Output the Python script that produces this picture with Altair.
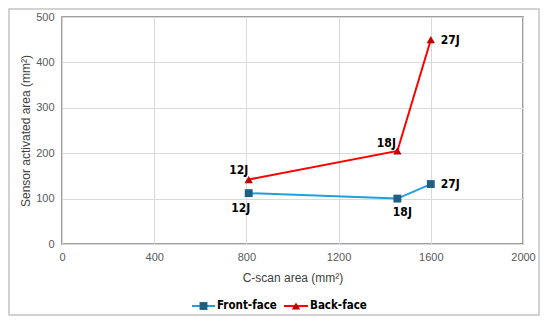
import altair as alt
import pandas as pd

# ---- data ----
labels = ["12J", "18J", "27J"]
front_x = [810, 1455, 1600]
front_y = [112, 100, 132]
back_x = [810, 1455, 1600]
back_y = [142, 205, 450]

series_names = ["Front-face", "Back-face"]
x_ticks = [0, 400, 800, 1200, 1600, 2000]
y_ticks = [0, 100, 200, 300, 400, 500]

df = pd.DataFrame({
    "series": ["Front-face"] * 3 + ["Back-face"] * 3,
    "x": front_x + back_x,
    "y": front_y + back_y,
    "label": labels + labels,
})

line_colors = ["#1ea0d8", "#ff0000"]
marker_colors = ["#1f5f80", "#c00000"]
marker_shapes = ["square", "triangle-up"]
LBL_FONT = "Liberation Sans Narrow, DejaVu Sans Condensed, sans-serif"
AX_FONT = "Liberation Sans, Arial, sans-serif"

xs = alt.X("x:Q", scale=alt.Scale(domain=[0, 2000], nice=False),
           axis=alt.Axis(values=x_ticks, title="C-scan area (mm²)", grid=True,
                         ticks=False, domain=False, labelPadding=7, labelFlush=False,
                         titlePadding=10, format="d"))
ys = alt.Y("y:Q", scale=alt.Scale(domain=[0, 500], nice=False),
           axis=alt.Axis(values=y_ticks, title="Sensor activated area (mm²)",
                         grid=True, ticks=False, domain=False, labelPadding=8,
                         labelFlush=False, titlePadding=3, format="d"))

base = alt.Chart(df)

lines = base.mark_line(strokeWidth=2).encode(
    x=xs, y=ys,
    color=alt.Color("series:N", scale=alt.Scale(domain=series_names, range=line_colors),
                    legend=None),
)

pt_front = base.transform_filter(alt.datum.series == series_names[0]).mark_point(
    filled=True, opacity=1, size=62, shape=marker_shapes[0], color=marker_colors[0]
).encode(x="x:Q", y="y:Q")
pt_back = base.transform_filter(alt.datum.series == series_names[1]).mark_point(
    filled=True, opacity=1, size=70, shape=marker_shapes[1], color=marker_colors[1]
).encode(x="x:Q", y="y:Q")

# label offsets (pixels) per series/label
offsets = {
    ("Front-face", "12J"): (-8, 15, "center"),
    ("Front-face", "18J"): (5, 13, "center"),
    ("Front-face", "27J"): (10, 0, "left"),
    ("Back-face", "12J"): (-10, -10, "center"),
    ("Back-face", "18J"): (-11, -8, "center"),
    ("Back-face", "27J"): (10, 0, "left"),
}
texts = []
for (s, l), (dx, dy, al) in offsets.items():
    texts.append(
        base.transform_filter(
            (alt.datum.series == s) & (alt.datum.label == l)
        ).mark_text(dx=dx, dy=dy, align=al, baseline="middle", font=LBL_FONT,
                    fontWeight="bold", fontSize=12, color="#000000").encode(
            x="x:Q", y="y:Q", text="label:N")
    )

# legend (drawn below the plot, centred on the chart)
one = alt.Chart(pd.DataFrame({"a": [0]}))
LEG_Y = 289
leg_pos = [(130, 153), (222, 246)]
legend_layers = []
for i, name in enumerate(series_names):
    x0, x1 = leg_pos[i]
    legend_layers.append(one.mark_rule(color=line_colors[i], strokeWidth=2).encode(
        x=alt.value(x0), x2=alt.value(x1), y=alt.value(LEG_Y)))
    legend_layers.append(one.mark_point(
        filled=True, opacity=1, shape=marker_shapes[i], color=marker_colors[i],
        size=62 if i == 0 else 70).encode(
        x=alt.value((x0 + x1) / 2), y=alt.value(LEG_Y)))
    legend_layers.append(one.mark_text(
        align="left", baseline="middle", font=LBL_FONT, fontWeight="bold",
        fontSize=11.5, color="#000000").encode(
        x=alt.value(x1 + 2), y=alt.value(LEG_Y), text=alt.value(name)))

border = one.mark_rect(
    fill="transparent", stroke="#c4c4c4", strokeWidth=1.5).encode(
    x=alt.value(-53), x2=alt.value(477), y=alt.value(-8), y2=alt.value(298))

chart = alt.layer(border, lines, pt_front, pt_back, *texts, *legend_layers).properties(
    width=461, height=227,
    autosize=alt.AutoSizeParams(type="none"),
    padding={"left": 54, "top": 9, "right": 18, "bottom": 73},
).configure_view(stroke="#7f7f7f", strokeWidth=1.5).configure_axis(
    labelFont=AX_FONT, labelFontSize=11, labelColor="#595959",
    titleFont=AX_FONT, titleFontSize=12, titleColor="#404040", titleFontWeight="normal",
    gridColor="#d9d9d9", gridWidth=1,
)

chart.save("out.html", embed_options={"renderer": "svg", "actions": False})
